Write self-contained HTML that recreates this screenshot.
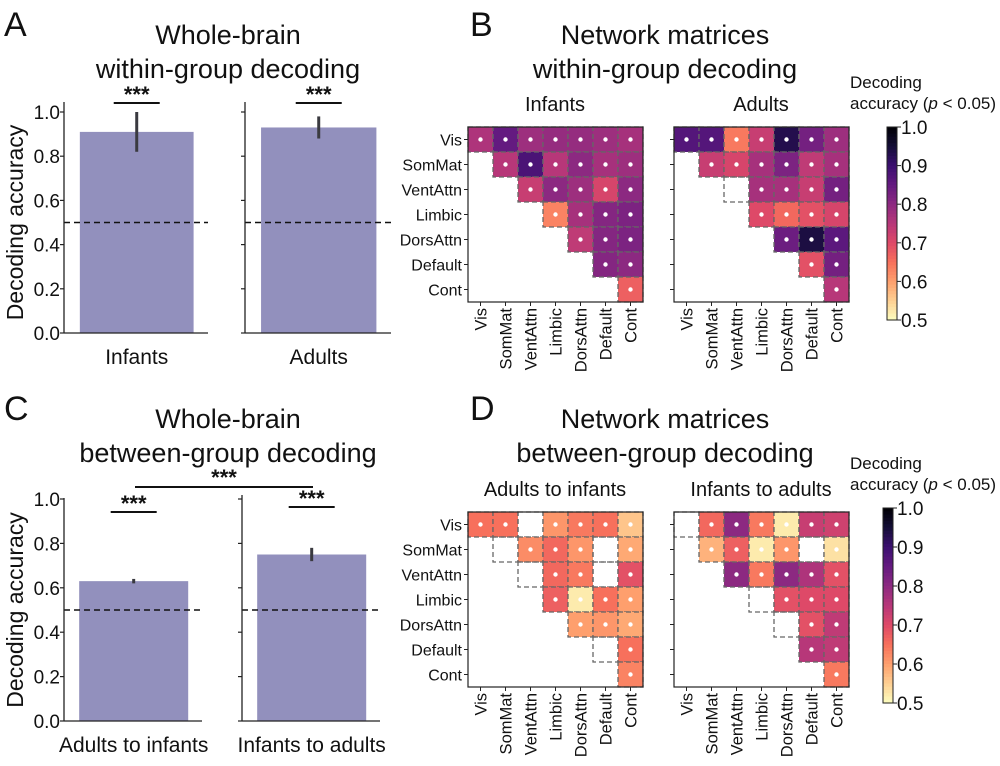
<!DOCTYPE html>
<html><head><meta charset="utf-8"><style>
body{margin:0;background:#fff;}
svg{display:block;font-family:"Liberation Sans",sans-serif;}
</style></head><body>
<svg id="fig" width="1000" height="766" viewBox="0 0 1000 766">
<g id="root"></g>
</svg>
<script>
const networks=["Vis","SomMat","VentAttn","Limbic","DorsAttn","Default","Cont"];
const barCatsA=["Infants","Adults"];
const barValsA=[0.91,0.93];
const errLoA=[0.82,0.88];
const errHiA=[1.0,0.98];
const barCatsC=["Adults to infants","Infants to adults"];
const barValsC=[0.63,0.75];
const errLoC=[0.62,0.72];
const errHiC=[0.64,0.78];
const yTicks=["0.0","0.2","0.4","0.6","0.8","1.0"];
const cbTicks=["0.5","0.6","0.7","0.8","0.9","1.0"];
const matInfants=[[.76,.85,.78,.79,.79,.78,.77],[.75,.88,.75,.80,.77,.78],[.73,.80,.78,.71,.80],[.63,.77,.81,.82],[.74,.81,.82],[.81,.80],[.67]];
const matAdults=[[.87,.87,.64,.73,.93,.83,.78],[.73,.71,.77,.82,.74,.77],[null,.77,.77,.73,.83],[.70,.66,.69,.71],[.84,.94,.86],[.69,.83],[.75]];
const matAtoI=[[.65,.65,null,.61,.64,.65,.56],[null,.62,.66,.61,null,.59],[null,.66,.64,null,.69],[.67,.52,.65,.60],[.60,.61,.59],[null,.65],[.63]];
const matItoA=[[null,.66,.80,.64,.52,.73,.72],[.58,.67,.52,.61,null,.53],[.80,.64,.80,.76,.69],[null,.69,.70,.70],[null,.69,.74],[.75,.74],[.64]];

const NS="http://www.w3.org/2000/svg";
const root=document.getElementById('root');
function mk(tag,attrs,parent,txt){const e=document.createElementNS(NS,tag);for(const k in attrs)e.setAttribute(k,attrs[k]);if(txt!==undefined)e.textContent=txt;(parent||root).appendChild(e);return e;}
const magma=[[0,0,4],[20,14,54],[59,15,112],[100,26,128],[140,41,129],[183,55,121],[222,73,104],[247,112,92],[254,159,109],[254,207,146],[252,253,191]];
function cmap(v){let t=1-(v-0.5)/0.5;t=Math.max(0,Math.min(1,t));const f=t*10,i=Math.min(9,Math.floor(f)),r=f-i;const a=magma[i],b=magma[i+1];return `rgb(${a.map((c,k)=>Math.round(c+(b[k]-c)*r)).join(',')})`;}

function text(x,y,s,size,anchor,name,extra){const t=mk('text',Object.assign({x:x,y:y,'font-size':size,'text-anchor':anchor||'start',fill:'#111'},extra||{}),root,s);return t;}

text(4,36,"A",34,'start','panel-label-a');
text(228,44,"Whole-brain",27,'middle','title-a-line1');
text(228,78,"within-group decoding",27,'middle','title-a-line2');
text(470,36,"B",34,'start','panel-label-b');
text(665,44,"Network matrices",27,'middle','title-b-line1');
text(665,78,"within-group decoding",27,'middle','title-b-line2');
text(4,420,"C",34,'start','panel-label-c');
text(228,428,"Whole-brain",27,'middle','title-c-line1');
text(228,462,"between-group decoding",27,'middle','title-c-line2');
text(470,420,"D",34,'start','panel-label-d');
text(665,428,"Network matrices",27,'middle','title-d-line1');
text(665,462,"between-group decoding",27,'middle','title-d-line2');

function barPanel(cats,vals,lo,hi,axes,y0,y1,showLabel,pname){
  const ys=v=>y0-(y0-y1)*v;
  axes.forEach((ax,i)=>{
    const g=mk('g',{});
    const bw=ax.x1-ax.x0, bx=ax.x0+bw*0.11, bwid=bw*0.79;
    const bar=mk('rect',{x:bx,y:ys(vals[i]),width:bwid,height:y0-ys(vals[i]),fill:'#9290bd'},g);
    
    const cx=bx+bwid/2;
    const e=mk('line',{x1:cx,x2:cx,y1:ys(lo[i]),y2:ys(hi[i]),stroke:'#3a3a40','stroke-width':3},g);
    
    const d=mk('line',{x1:ax.x0,x2:ax.x1,y1:ys(0.5),y2:ys(0.5),stroke:'#111','stroke-width':1.6,'stroke-dasharray':'6,4'},g);
    
    mk('line',{x1:ax.x0,x2:ax.x0,y1:ax.top,y2:y0,stroke:'#222','stroke-width':1.3},g);
    mk('line',{x1:ax.x0,x2:ax.x1,y1:y0,y2:y0,stroke:'#222','stroke-width':1.3},g);
    yTicks.forEach((t,k)=>{const v=k*0.2;mk('line',{x1:ax.x0-4,x2:ax.x0,y1:ys(v),y2:ys(v),stroke:'#222','stroke-width':1.2},g);
      if(i===0)text(ax.x0-4,ys(v)+7,t,19,'end','y-tick-label');});
    text(cx,y0+31,cats[i],21,'middle','x-category-label');
    const sy=ax.sig;
    mk('line',{x1:cx-23,x2:cx+23,y1:sy,y2:sy,stroke:'#111','stroke-width':2},g);
    text(cx,sy-1,"***",22,'middle','significance-stars',{'font-weight':'bold'});
  });
  if(showLabel){text(0,0,"Decoding accuracy",23,'middle',pname+'-y-axis-title',{transform:`translate(23,${(y0+y1)/2}) rotate(-90)`});}
}
barPanel(barCatsA,barValsA,errLoA,errHiA,[{x0:64,x1:208,top:102,sig:103},{x0:245,x1:391,top:102,sig:103}],333,112,true,'panel-a');
barPanel(barCatsC,barValsC,errLoC,errHiC,[{x0:64,x1:202,top:498,sig:512},{x0:242,x1:380,top:495,sig:507}],721,499,true,'panel-c');
mk('line',{x1:135,x2:313,y1:487,y2:487,stroke:'#111','stroke-width':2});
text(224,485,"***",22,'middle','significance-stars-between',{'font-weight':'bold'});

function matrix(M,x0,y0,title,labels,name){
  const c=25;const g=mk('g',{});
  text(x0+87,y0-16,title,20,'middle',name+'-title');
  M.forEach((row,i)=>row.forEach((v,k)=>{const j=i+k;const x=x0+j*c,y=y0+i*c;
    if(v!==null){const r=mk('rect',{x:x,y:y,width:c,height:c,fill:cmap(v)},g);
      mk('circle',{cx:x+c/2,cy:y+c/2,r:2.2,fill:'#fff'},g);}
    mk('rect',{x:x,y:y,width:c,height:c,fill:'none',stroke:'#666','stroke-width':1.3,'stroke-dasharray':'5,3'},g);
  }));
  mk('rect',{x:x0,y:y0,width:7*c,height:7*c,fill:'none',stroke:'#222','stroke-width':1.2},g);
  networks.forEach((n,i)=>{
    mk('line',{x1:x0-4,x2:x0,y1:y0+i*c+c/2,y2:y0+i*c+c/2,stroke:'#222'},g);
    mk('line',{x1:x0+i*c+c/2,x2:x0+i*c+c/2,y1:y0+7*c,y2:y0+7*c+4,stroke:'#222'},g);
    if(labels)text(x0-6,y0+i*c+c/2+6,n,16,'end','row-label');
    text(0,0,n,16.5,'end','column-label',{transform:`translate(${x0+i*c+c/2+6},${y0+7*c+6}) rotate(-90)`});
  });
}
matrix(matInfants,468,127,"Infants",true,'matrix-infants');
matrix(matAdults,674,127,"Adults",false,'matrix-adults');
matrix(matAtoI,468,512,"Adults to infants",true,'matrix-adults-to-infants');
matrix(matItoA,674,512,"Infants to adults",false,'matrix-infants-to-adults');

function colorbar(x,y0,y1,ly,name){
  const g=mk('g',{});
  const n=60,h=(y1-y0)/n;
  for(let i=0;i<n;i++){mk('rect',{x:x,y:y0+i*h,width:10,height:h+0.6,fill:cmap(1-0.5*(i+0.5)/n)},g);}
  mk('rect',{x:x,y:y0,width:10,height:y1-y0,fill:'none',stroke:'#222','stroke-width':1},g);
  cbTicks.forEach((t,k)=>{const y=y1-(y1-y0)*k/5;mk('line',{x1:x+10,x2:x+14,y1:y,y2:y,stroke:'#222'},g);text(x+14,y+7,t,19,'start','colorbar-tick-label');});
  text(850,ly,"Decoding",17,'start','colorbar-title-line1');
  const t=text(850,ly+21,"",17,'start','colorbar-title-line2');
  mk('tspan',{},t,"accuracy (");mk('tspan',{'font-style':'italic'},t,"p");mk('tspan',{},t," < 0.05)");
}
colorbar(887,127,320,88,'colorbar-b');
colorbar(883,508,703,469,'colorbar-d');
</script>
</body></html>
